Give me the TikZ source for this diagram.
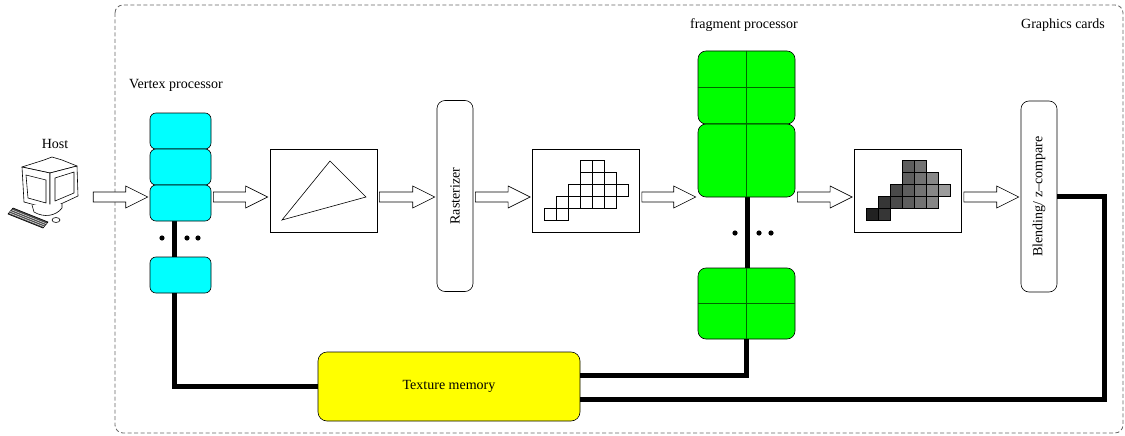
\documentclass[tikz,border=0pt]{standalone}
\usepackage{fontspec}
\usepackage{graphicx}
\setmainfont{Liberation Serif}
\usetikzlibrary{calc}
\definecolor{vcyan}{RGB}{0,255,255}
\definecolor{fgreen}{RGB}{0,255,0}
\definecolor{tyellow}{RGB}{255,255,0}
\newcommand{\fatarrow}[2]{%
  \draw[flow] let \p1=(#1.east |- row), \p2=(#2.west |- row) in
    (\x1+2pt,\y1+5pt) -- (\x2-24pt,\y1+5pt) -- (\x2-24pt,\y1+11pt) -- (\x2-2pt,\y1)
    -- (\x2-24pt,\y1-11pt) -- (\x2-24pt,\y1-5pt) -- (\x1+2pt,\y1-5pt) -- cycle;}
\begin{document}
\begin{tikzpicture}[x=1pt, y=-1pt,
  every node/.style = {font=\fontsize{14}{16}\selectfont, inner sep=0pt},
  vbox/.style = {draw, fill=vcyan, rounded corners=6pt, line width=0.6pt,
    minimum width=61pt, minimum height=36pt},
  fbox/.style = {draw, fill=fgreen, rounded corners=8pt, line width=0.6pt,
    minimum width=97pt},
  fline/.style = {draw=fgreen!40!black, line width=0.8pt},
  imgbox/.style = {draw, fill=white, line width=0.7pt,
    minimum width=107pt, minimum height=83pt},
  stage/.style = {draw, rounded corners=8pt, line width=0.6pt,
    minimum width=36pt, minimum height=191pt},
  bus/.style = {line width=5pt},
  flow/.style = {draw, fill=white, line width=0.6pt},
  cell/.style = {draw, line width=0.7pt}]
  \useasboundingbox (0,0) rectangle (1125,436);
  \draw[black!60, dash pattern=on 4pt off 2.5pt, line width=0.8pt, rounded corners=8pt] (115,5) rectangle (1123,433);
  \coordinate (row) at (0,197);

  \node (hostlabel) at (55,144) {Host};
  \node[minimum width=86pt, minimum height=70pt] (pc) at (48,197) {};
  \begin{scope}[line width=0.6pt, line join=round]
    \draw[fill=white] (22,167) -- (44,160) -- (52,157) -- (62,160) -- (77,166) -- (50,173) -- cycle;
    \draw[fill=white] (22,167) -- (50,173) -- (50,209) -- (24,202) -- cycle;
    \draw (26,175) -- (46,180) -- (46,203) -- (28,198) -- cycle;
    \draw[fill=white] (50,173) -- (77,166) -- (78,196) -- (50,209) -- cycle;
    \draw (55,178) -- (74,172) -- (74,193) -- (55,201) -- cycle;
    \draw[fill=white] (32,205) -- (34,212) .. controls (44,218) and (56,216) .. (62,208) -- (62,204);
    \draw[fill=black!70] (13,208) -- (48,222) -- (43,228) -- (8,214) -- cycle;
    \foreach \t in {0.3,0.55,0.8}
      \draw[white, line width=0.4pt] ($(13,208)!\t!(8,214)$) -- ($(48,222)!\t!(43,228)$);
    \draw[fill=white] (56,220) ellipse [x radius=4pt, y radius=2.5pt];
  \end{scope}

  \node (vlabel) at (176,85) {Vertex processor};
  \draw[bus] (174,221) -- (174,257);
  \node[vbox] (vp1) at (180.5,131) {};
  \node[vbox] (vp2) at (180.5,167) {};
  \node[vbox] (vp3) at (180.5,203) {};
  \node[vbox] (vpn) at (180.5,275) {};
  \foreach \x in {162,187,198}
    \fill (\x,238) circle (2.6pt);

  \node[imgbox] (tri) at (323.5,190.5) {};
  \draw[line width=0.6pt] (330,161) -- (366,197) -- (282,220) -- cycle;

  \node[stage] (rast) at (455,196) {\rotatebox{90}{Rasterizer}};

  \node[imgbox] (pix) at (586,190.5) {};
  \foreach \c/\r in {3/0,4/0,3/1,4/1,5/1,2/2,3/2,4/2,5/2,6/2,1/3,2/3,3/3,4/3,5/3,0/4,1/4}
    \draw[cell] ($(pix.center)+(-42+12*\c,-30.5+12*\r)$) rectangle ++(12,12);

  \node (flabel) at (744,25) {fragment processor};
  \draw[bus] (747,197) -- (747,268);
  \node[fbox, minimum height=73pt] (fp1) at (746.5,87.5) {};
  \node[fbox, minimum height=73pt] (fp2) at (746.5,160.5) {};
  \node[fbox, minimum height=71pt] (fpn) at (746.5,303.5) {};
  \draw[fline] (fp1.north) -- (fp1.south) (fp1.west) -- (fp1.east);
  \draw[fline] (fp2.north) -- (fp2.south);
  \draw[fline] (fpn.north) -- (fpn.south) (fpn.west) -- (fpn.east);
  \foreach \x in {735,759,771}
    \fill (\x,233) circle (2.6pt);

  \node[imgbox] (shade) at (908,190.5) {};
  \foreach \c/\r in {3/0,4/0,3/1,4/1,5/1,2/2,3/2,4/2,5/2,6/2,1/3,2/3,3/3,4/3,5/3,0/4,1/4} {
    \pgfmathtruncatemacro\s{87-8*\c}
    \draw[cell, fill=black!\s] ($(shade.center)+(-42+12*\c,-30.5+12*\r)$) rectangle ++(12,12);
  }

  \node (glabel) at (1063,25) {Graphics cards};
  \node[stage] (blend) at (1039,196.5) {\rotatebox{90}{Blending/ z--compare}};

  \node[draw, fill=tyellow, rounded corners=9pt, line width=0.6pt,
    minimum width=262pt, minimum height=69pt] (tex) at (449,386.5) {Texture memory};

  \fatarrow{pc}{vp3}
  \fatarrow{vp3}{tri}
  \fatarrow{tri}{rast}
  \fatarrow{rast}{pix}
  \fatarrow{pix}{fp2}
  \fatarrow{fp2}{shade}
  \fatarrow{shade}{blend}

  \coordinate (ret) at (1104,399);
  \draw[bus] ([xshift=-6.5pt]vpn.south) |- (tex.west);
  \draw[bus] (fpn.south) |- ([yshift=11.5pt]tex.east);
  \draw[bus] (blend.east) -| (ret) -- (tex.east |- ret);
\end{tikzpicture}
\end{document}
